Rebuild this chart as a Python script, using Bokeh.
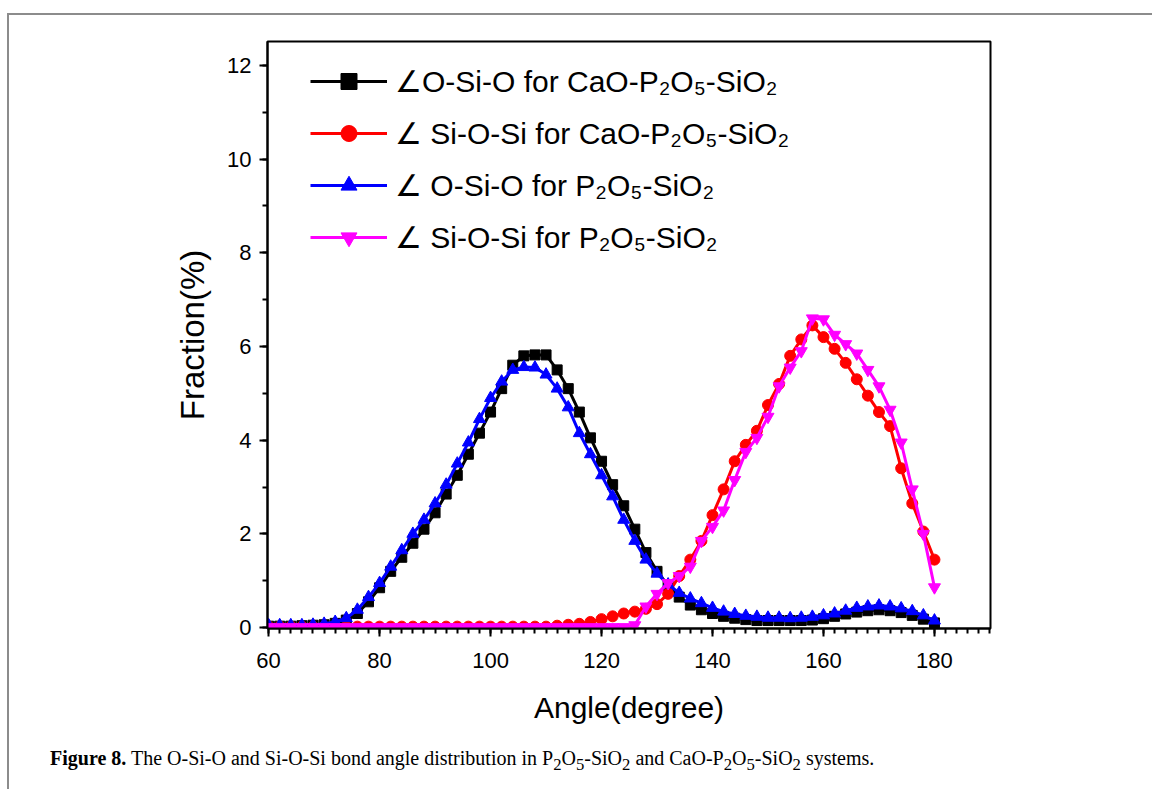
from bokeh.plotting import figure
from bokeh.models import SingleIntervalTicker, Range1d, Legend, LegendItem, Div
from bokeh.layouts import column
from bokeh.embed import file_html
from bokeh.resources import INLINE

# ---------------- data ----------------
angle = [60, 62, 64, 66, 68, 70, 72, 74, 76, 78,
         80, 82, 84, 86, 88, 90, 92, 94, 96, 98,
         100, 102, 104, 106, 108, 110, 112, 114, 116, 118,
         120, 122, 124, 126, 128, 130, 132, 134, 136, 138,
         140, 142, 144, 146, 148, 150, 152, 154, 156, 158,
         160, 162, 164, 166, 168, 170, 172, 174, 176, 178, 180]

osio_cao = [0.03, 0.03, 0.03, 0.04, 0.05, 0.06, 0.09, 0.16, 0.30, 0.55,
            0.85, 1.20, 1.50, 1.80, 2.10, 2.45, 2.85, 3.25, 3.70, 4.15,
            4.60, 5.10, 5.60, 5.80, 5.82, 5.82, 5.50, 5.10, 4.60, 4.05,
            3.55, 3.05, 2.60, 2.10, 1.60, 1.20, 0.90, 0.65, 0.48, 0.38,
            0.30, 0.24, 0.20, 0.17, 0.15, 0.15, 0.15, 0.15, 0.15, 0.16,
            0.19, 0.24, 0.29, 0.33, 0.36, 0.38, 0.36, 0.32, 0.26, 0.18, 0.10]

siosi_cao = [0.02, 0.02, 0.02, 0.02, 0.02, 0.02, 0.02, 0.02, 0.02, 0.02,
             0.02, 0.02, 0.02, 0.02, 0.02, 0.02, 0.02, 0.02, 0.02, 0.02,
             0.02, 0.02, 0.02, 0.02, 0.02, 0.02, 0.04, 0.06, 0.08, 0.12,
             0.18, 0.24, 0.30, 0.34, 0.40, 0.50, 0.72, 1.10, 1.45, 1.85,
             2.40, 2.95, 3.55, 3.90, 4.20, 4.75, 5.20, 5.80, 6.15, 6.45,
             6.20, 5.95, 5.65, 5.30, 4.95, 4.60, 4.30, 3.40, 2.65, 2.05, 1.45]

osio_p = [0.05, 0.05, 0.05, 0.05, 0.06, 0.08, 0.12, 0.20, 0.38, 0.65,
          0.95, 1.30, 1.65, 2.00, 2.30, 2.65, 3.05, 3.50, 3.95, 4.45,
          4.90, 5.25, 5.50, 5.56, 5.55, 5.40, 5.10, 4.70, 4.15, 3.70,
          3.25, 2.80, 2.30, 1.85, 1.45, 1.15, 0.92, 0.74, 0.62, 0.52,
          0.42, 0.34, 0.29, 0.25, 0.23, 0.21, 0.21, 0.20, 0.21, 0.23,
          0.26, 0.30, 0.36, 0.42, 0.45, 0.47, 0.45, 0.41, 0.35, 0.26, 0.15]

siosi_p = [0.01, 0.01, 0.01, 0.01, 0.01, 0.01, 0.01, 0.01, 0.01, 0.01,
           0.01, 0.01, 0.01, 0.01, 0.01, 0.01, 0.01, 0.01, 0.01, 0.01,
           0.01, 0.01, 0.01, 0.01, 0.01, 0.01, 0.01, 0.01, 0.01, 0.01,
           0.01, 0.01, 0.01, 0.05, 0.45, 0.72, 0.95, 1.10, 1.30, 1.85,
           2.15, 2.50, 3.15, 3.75, 4.05, 4.50, 5.15, 5.55, 5.90, 6.60,
           6.58, 6.25, 6.05, 5.85, 5.50, 5.15, 4.65, 3.95, 2.95, 2.00, 0.86]

series_labels = [
    "\u2220O-Si-O for CaO-P\u2082O\u2085-SiO\u2082",
    "\u2220 Si-O-Si for CaO-P\u2082O\u2085-SiO\u2082",
    "\u2220 O-Si-O for P\u2082O\u2085-SiO\u2082",
    "\u2220 Si-O-Si for P\u2082O\u2085-SiO\u2082",
]
x_label = "Angle(degree)"
y_label = "Fraction(%)"
caption_html = ("<b>Figure 8.</b> The O-Si-O and Si-O-Si bond angle distribution in "
                "P<sub>2</sub>O<sub>5</sub>-SiO<sub>2</sub> and "
                "CaO-P<sub>2</sub>O<sub>5</sub>-SiO<sub>2</sub> systems.")

# ---------------- figure ----------------
FONT = "Liberation Sans"

p = figure(width=1141, height=725, output_backend="svg", toolbar_location=None,
           x_range=Range1d(59.8, 190.1), y_range=Range1d(-0.02, 12.51),
           min_border_left=258, min_border_right=160,
           min_border_top=26, min_border_bottom=112)

p.xgrid.visible = False
p.ygrid.visible = False
p.outline_line_color = "black"
p.outline_line_width = 2
p.outline_line_alpha = 1.0
p.background_fill_color = "white"
p.border_fill_color = "white"

p.xaxis.ticker = SingleIntervalTicker(interval=20, num_minor_ticks=10)
p.yaxis.ticker = SingleIntervalTicker(interval=2, num_minor_ticks=2)

for ax in (p.xaxis, p.yaxis):
    ax.axis_line_width = 2
    ax.axis_line_color = "black"
    ax.major_tick_line_width = 2
    ax.minor_tick_line_width = 2
    ax.major_tick_line_color = "black"
    ax.minor_tick_line_color = "black"
    ax.major_tick_in = 0
    ax.major_tick_out = 8
    ax.minor_tick_in = 0
    ax.minor_tick_out = 5
    ax.major_label_text_font = FONT
    ax.major_label_text_font_size = "22px"
    ax.major_label_text_color = "black"
    ax.axis_label_text_font = FONT
    ax.axis_label_text_font_style = "normal"
    ax.axis_label_text_color = "black"

p.xaxis.axis_label = x_label
p.yaxis.axis_label = y_label
p.xaxis.axis_label_text_font_size = "30px"
p.yaxis.axis_label_text_font_size = "33px"
p.xaxis.major_label_standoff = 16
p.yaxis.major_label_standoff = 8
p.xaxis.axis_label_standoff = 20
p.yaxis.axis_label_standoff = 13

LW = 3
l1 = p.line(angle, osio_cao, line_color="black", line_width=LW)
m1 = p.scatter(angle, osio_cao, marker="square", size=10, fill_color="black", line_color="black")
l2 = p.line(angle, siosi_cao, line_color="red", line_width=LW)
m2 = p.scatter(angle, siosi_cao, marker="circle", size=11, fill_color="red", line_color="red")
l3 = p.line(angle, osio_p, line_color="blue", line_width=LW)
m3 = p.scatter(angle, osio_p, marker="triangle", size=12, fill_color="blue", line_color="blue")
l4 = p.line(angle, siosi_p, line_color="magenta", line_width=LW)
m4 = p.scatter(angle, siosi_p, marker="inverted_triangle", size=12, fill_color="magenta", line_color="magenta")

rends = [[l1, m1], [l2, m2], [l3, m3], [l4, m4]]
legend = Legend(items=[LegendItem(label=series_labels[i], renderers=rends[i]) for i in range(4)],
                location=(43, 371), padding=0, spacing=12, glyph_width=77, glyph_height=40,
                label_standoff=8, label_text_font=FONT, label_text_font_size="30px",
                label_text_color="black", border_line_alpha=0, background_fill_alpha=0,
                margin=0)
p.add_layout(legend)

caption = Div(text=caption_html, width=1141, height=40,
              styles={"font-family": "'Liberation Serif', serif", "font-size": "20px",
                      "color": "black", "padding-left": "36px", "padding-top": "1px",
                      "line-height": "1.2"})

page = column(p, caption, spacing=0,
              styles={"margin-top": "13px", "margin-left": "7px",
                      "border-top": "2px solid #8c8c8c", "border-left": "2px solid #8c8c8c"})

open("out.html", "w").write(file_html(page, INLINE))
